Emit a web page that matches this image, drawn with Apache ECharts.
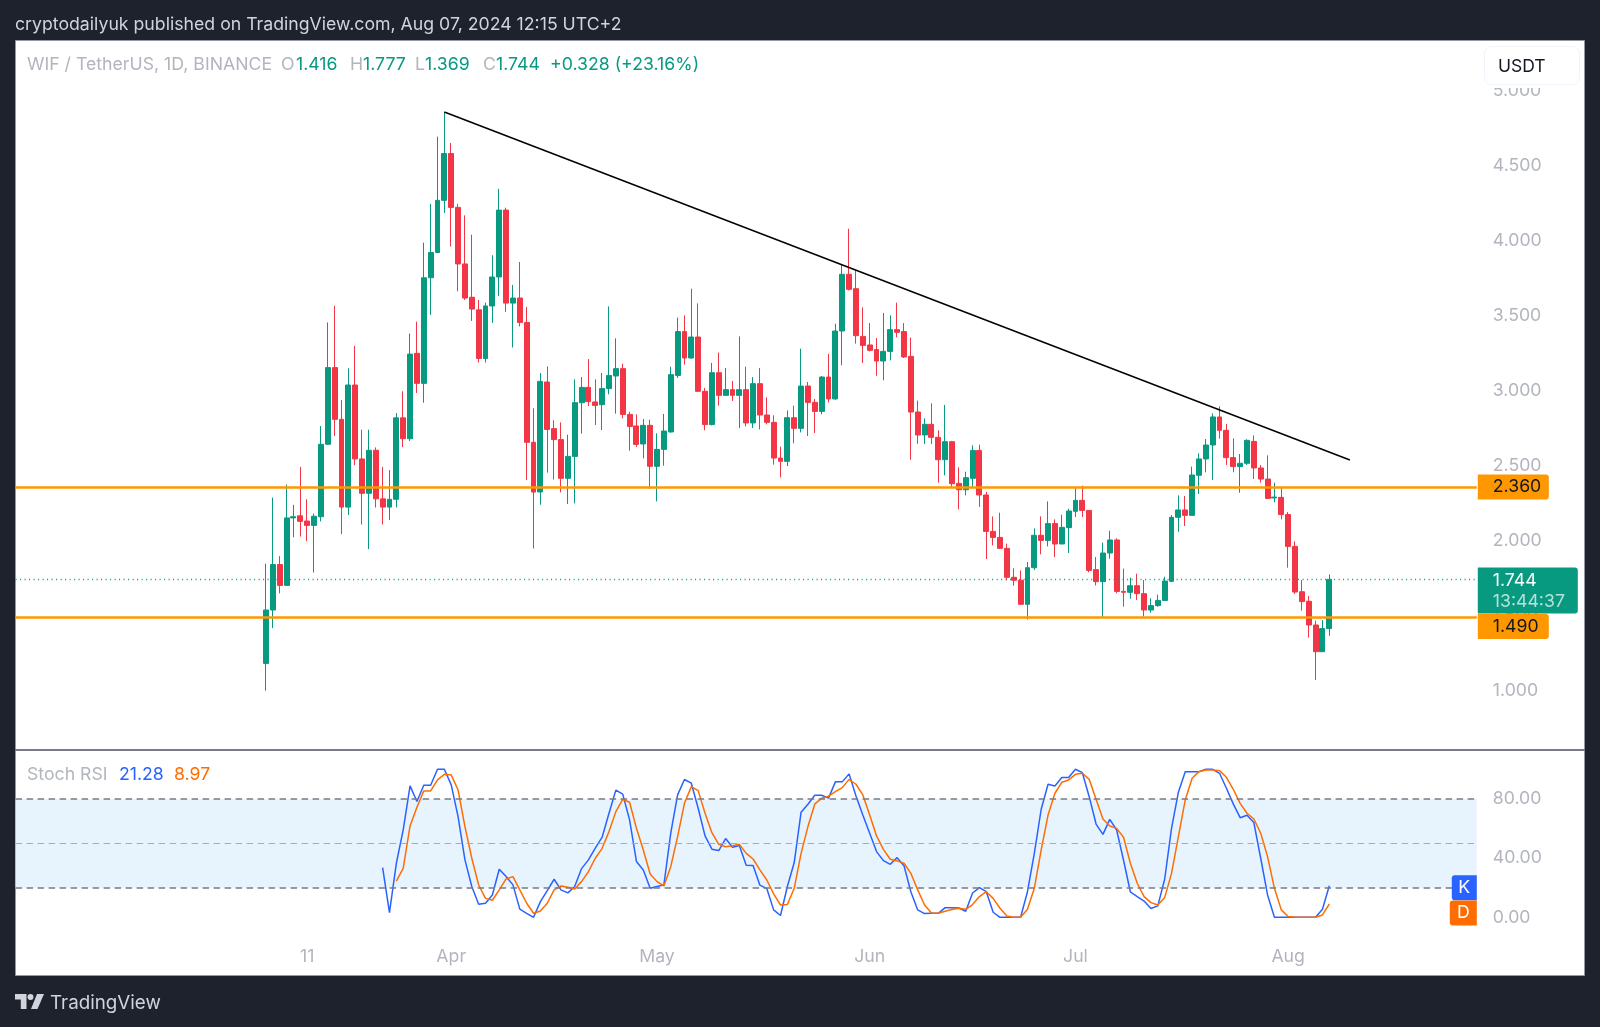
<!doctype html>
<html>
<head>
    <meta charset="utf-8">
    <title>WIF / TetherUS 1D</title>
    <script src="https://cdn.jsdelivr.net/npm/echarts@6/dist/echarts.min.js"></script>
    <style>
        html, body { margin: 0; padding: 0; background: #1e222d; }
        #main { width: 1600px; height: 1027px; }
    </style>
</head>
<body>
    <div id="main"></div>
</body>
<script type="text/javascript">
    // daily candles, 5 Mar 2024 to 7 Aug 2024
    var opens = [
        1.184,1.54,1.843,1.704,2.154,2.168,2.133,2.104,2.162,2.645,
        3.156,2.811,2.226,3.04,2.547,2.318,2.605,2.281,2.226,2.278,
        2.821,2.682,3.251,3.051,3.755,3.923,4.271,4.583,4.224,3.847,
        3.625,3.541,3.217,3.567,3.76,4.206,3.586,3.62,3.457,2.658,
        2.327,3.06,2.749,2.676,2.418,2.564,2.922,3.024,2.927,2.909,
        3.016,3.10,3.149,2.844,2.767,2.647,2.771,2.498,2.611,2.727,
        3.104,3.396,3.22,3.36,2.998,2.776,3.122,2.971,3.009,2.971,
        3.009,2.787,3.049,2.84,2.791,2.553,2.531,2.822,2.751,3.033,
        2.924,2.864,3.093,2.947,3.4,3.778,3.682,3.364,3.307,3.276,
        3.2,3.264,3.409,3.396,3.231,2.86,2.707,2.778,2.691,2.542,
        2.662,2.384,2.342,2.418,2.604,2.307,2.064,2.024,1.951,1.758,
        1.738,1.578,1.822,2.038,2.004,2.116,1.98,2.089,2.198,2.271,
        2.204,1.809,1.729,1.92,2.007,1.664,1.658,1.702,1.649,1.54,
        1.569,1.604,1.731,2.158,2.207,2.171,2.438,2.547,2.64,2.827,
        2.738,2.556,2.496,2.518,2.664,2.487,2.413,2.287,2.291,2.176,
        1.964,1.662,1.598,1.44,1.262,1.416
    ];
    var closes = [
        1.54,1.843,1.704,2.154,2.162,2.131,2.104,2.165,2.645,3.156,
        2.811,2.226,3.04,2.547,2.318,2.605,2.281,2.226,2.278,2.821,
        2.682,3.246,3.051,3.755,3.923,4.271,4.583,4.224,3.847,3.62,
        3.546,3.217,3.567,3.76,4.206,3.586,3.62,3.457,2.658,2.326,
        3.064,2.744,2.676,2.418,2.564,2.922,3.024,2.929,2.904,3.016,
        3.104,3.149,2.844,2.764,2.644,2.771,2.498,2.611,2.733,3.109,
        3.396,3.22,3.36,2.998,2.776,3.122,2.971,3.009,2.971,3.009,
        2.787,3.049,2.84,2.791,2.553,2.531,2.822,2.751,3.033,2.924,
        2.864,3.093,2.947,3.4,3.778,3.678,3.369,3.304,3.271,3.2,
        3.264,3.409,3.391,3.227,2.86,2.707,2.778,2.691,2.542,2.662,
        2.382,2.342,2.422,2.604,2.307,2.064,2.024,1.951,1.758,1.738,
        1.578,1.822,2.038,2.004,2.116,1.98,2.091,2.2,2.271,2.204,
        1.804,1.729,1.92,2.007,1.664,1.658,1.702,1.649,1.54,1.569,
        1.604,1.733,2.158,2.207,2.171,2.44,2.547,2.64,2.827,2.738,
        2.556,2.496,2.518,2.671,2.487,2.413,2.284,2.293,2.176,1.964,
        1.66,1.596,1.44,1.262,1.416,1.744
    ];
    var highs = [
        1.849,2.289,1.899,2.376,2.241,2.494,2.278,2.183,2.766,3.457,
        3.568,2.94,3.151,3.301,2.742,2.742,2.624,2.494,2.473,2.853,
        2.998,3.383,3.462,3.989,4.248,4.696,4.86,4.654,4.248,4.171,
        4.042,3.607,3.589,3.905,4.348,4.222,3.707,3.86,3.56,2.885,
        3.12,3.164,2.804,2.791,2.709,3.078,3.093,3.213,3.078,3.12,
        3.564,3.351,3.182,2.862,2.844,2.813,2.809,2.718,2.847,3.162,
        3.489,3.504,3.682,3.584,3.02,3.187,3.256,3.153,3.067,3.364,
        3.162,3.093,3.153,2.958,2.838,2.629,2.871,2.902,3.282,3.06,
        2.947,3.1,3.247,3.449,3.844,4.082,3.804,3.558,3.453,3.353,
        3.52,3.504,3.589,3.453,3.356,2.936,2.818,2.918,2.738,2.907,
        2.667,2.491,2.462,2.638,2.642,2.327,2.164,2.189,1.982,1.818,
        1.804,1.86,2.084,2.164,2.264,2.144,2.176,2.216,2.351,2.369,
        2.204,1.893,1.989,2.069,2.018,1.816,1.756,1.782,1.74,1.618,
        1.642,1.762,2.173,2.304,2.3,2.496,2.584,2.68,2.851,2.898,
        2.78,2.684,2.58,2.678,2.704,2.507,2.571,2.389,2.358,2.193,
        1.998,1.74,1.633,1.469,1.473,1.777
    ];
    var lows = [
        1.002,1.419,1.651,1.70,2.025,2.03,1.999,1.79,2.131,2.64,
        2.70,2.046,2.173,2.505,2.11,1.946,2.223,2.11,2.139,2.223,
        2.626,2.666,2.987,2.922,3.507,3.92,4.187,3.963,3.665,3.607,
        3.467,3.19,3.19,3.454,3.633,3.528,3.29,3.43,2.407,1.95,
        2.242,2.456,2.409,2.324,2.247,2.251,2.716,2.9,2.773,2.74,
        2.978,2.849,2.818,2.602,2.627,2.551,2.347,2.264,2.502,2.722,
        3.087,3.176,3.216,2.993,2.738,2.771,2.902,2.969,2.933,2.753,
        2.764,2.753,2.744,2.778,2.509,2.424,2.5,2.651,2.724,2.7,
        2.72,2.844,2.924,2.942,3.171,3.67,3.316,3.187,3.264,3.102,
        3.071,3.204,3.358,3.22,2.542,2.649,2.647,2.647,2.389,2.438,
        2.36,2.211,2.304,2.36,2.227,1.88,1.971,1.947,1.738,1.702,
        1.573,1.476,1.807,1.911,1.964,1.893,1.98,1.92,2.16,2.16,
        1.791,1.704,1.491,1.882,1.651,1.562,1.616,1.607,1.496,1.522,
        1.562,1.6,1.727,2.062,2.1,2.171,2.313,2.458,2.407,2.682,
        2.507,2.458,2.322,2.507,2.413,2.389,2.28,2.258,2.144,1.822,
        1.647,1.536,1.356,1.073,1.262,1.369
    ];
    // Stoch RSI, K starts on candle 17 and D on candle 19
    var stochK = [
        33.6,3.2,36.5,59,88.8,78.2,89.2,89.2,100,100,89.5,68,38.8,20.8,8.8,9.5,15.1,32.5,27.5,21.9,
        5.5,2.7,0,10.6,18,25.7,18.5,16.5,20.8,32.9,38.8,46.7,54.1,70.3,85.9,83.2,65.8,37.7,32,19.6,
        20.8,21.9,56.8,82.7,93.1,90.6,73.7,55,46,45.1,53.2,47.3,48.5,35.2,35,21.7,19.4,5,1.2,20.8,
        37,71,76.4,82.5,82.5,80.5,91.5,91.5,96.9,82,69.1,56.8,44.4,38.3,35.8,40.3,34.9,17.3,5,2.5,
        2.7,2.7,6.5,6.5,6.3,4.1,16.4,20,17.3,3.4,0,0,0,0,17.3,43.2,73,89.9,88.7,94.4,
        94.4,100,97.7,81.5,63,56,66.2,59,38.7,17.1,14,11,5.9,7.7,25.7,60.1,84.5,98.4,98.4,98.4,
        100,100,97.3,87.2,76.6,67.3,68.9,64,39.9,15.1,0,0,0,0,0,0,0,5.4,21.28
    ];
    var stochD = [
        24.5,33.1,61.7,74.3,85.4,85.4,92.8,96.6,96.2,86,61.3,39.9,21.8,12.8,11.5,18.5,25.9,27.5,18.5,9.5,
        2.7,4.3,9.5,18.5,21.2,20.3,19.1,24.1,30.9,39.9,46.6,57.9,71.4,79.7,77.7,60.1,45.5,29.3,24.1,21.2,
        34.2,54.5,77,88.3,85.6,70.3,57.2,49.3,47.7,48.4,49.3,43.2,39.4,32,25.2,15.8,8.3,8.6,19.6,43.2,
        61.3,76.6,80.4,81.8,84.9,87.6,93.2,89.9,82.7,69.1,55,45.9,39.2,38.1,36.5,29.7,18.5,8.3,2.9,2.7,
        4.1,5.2,6.1,5.4,8.6,14,17.3,12.8,6.1,0.9,0,0,5.4,19.6,45.5,69.1,83.8,91.2,92.8,96.6,
        97.3,93.2,79.7,66.4,61.7,60.1,54.1,36.5,23,14,9.9,8.3,13.3,29.7,54.5,79.3,93.9,98.4,99.5,99.5,
        99.1,94.6,86.5,77,70.3,66.4,56.8,41,19.6,5,0.5,0,0,0,0,1.6,8.97
    ];

    var priceTicks = [1, 1.5, 2, 2.5, 3, 3.5, 4, 4.5, 5];
    var stochTicks = [0, 40, 80];
    var timeLabels = { '2024-03-11': '11', '2024-04-01': 'Apr', '2024-05-01': 'May', '2024-06-01': 'Jun', '2024-07-01': 'Jul', '2024-08-01': 'Aug' };
    var levelHigh = 2.36, levelLow = 1.49, lastClose = 1.744;
    var trendFrom = [26, 4.86], trendTo = [158, 2.54];

    var UP = '#089981', DOWN = '#F23645', ORANGE = '#FF9800', BLUE = '#2962FF', TAG_ORANGE = '#FF6D00', GREY = '#B2B5BE';
    var FONT = 'Inter, "Noto Sans", sans-serif';

    // the time scale runs past the data on both sides
    var LEAD = 36, TAIL = 21;
    var categories = [];
    var startDay = Date.UTC(2024, 2, 5) - LEAD * 86400000;
    for (var i = 0; i < LEAD + opens.length + TAIL; i++) {
        categories.push(new Date(startDay + i * 86400000).toISOString().slice(0, 10));
    }
    function blanks(n) {
        var out = [];
        for (var j = 0; j < n; j++) out.push('-');
        return out;
    }
    var candles = blanks(LEAD).map(function () { return ['-', '-', '-', '-']; });
    for (var c = 0; c < opens.length; c++) {
        candles.push([opens[c], closes[c], lows[c], highs[c]]);
    }

    // text drawn by hand around the chart
    function txt(x, y, text, fill, size, z) {
        return { type: 'text', z: z || 50, silent: true, style: { x: x, y: y, text: text, fill: fill, font: (size || 17.7) + 'px ' + FONT, verticalAlign: 'middle' } };
    }
    var graphics = [
        // white chart panel
        { type: 'rect', z: -10, silent: true, shape: { x: 15.5, y: 40.5, width: 1569, height: 935 }, style: { fill: '#fff', stroke: '#9598A1', lineWidth: 1 } },
        { type: 'rect', z: 40, silent: true, shape: { x: 15, y: 749, width: 1570, height: 2 }, style: { fill: '#787B86' } },
        // USDT button covers the top of the price scale
        { type: 'rect', z: 45, silent: true, shape: { x: 1478, y: 41, width: 106, height: 47 }, style: { fill: '#fff' } },
        { type: 'rect', z: 46, silent: true, shape: { x: 1484.5, y: 46.5, width: 95, height: 38, r: 7 }, style: { fill: '#fff', stroke: '#F0F3FA', lineWidth: 1 } },
        txt(1498, 66.5, 'USDT', '#131722', 17.5),
        txt(15, 25, 'cryptodailyuk published on TradingView.com, Aug 07, 2024 12:15 UTC+2', '#D1D4DC', 17.7),
        txt(27, 64.5, 'WIF / TetherUS, 1D, BINANCE', GREY),
        txt(281, 64.5, 'O', GREY), txt(296, 64.5, '1.416', UP),
        txt(350, 64.5, 'H', GREY), txt(363, 64.5, '1.777', UP),
        txt(415, 64.5, 'L', GREY), txt(425, 64.5, '1.369', UP),
        txt(483, 64.5, 'C', GREY), txt(496, 64.5, '1.744', UP),
        txt(550, 64.5, '+0.328 (+23.16%)', UP),
        txt(27, 775, 'Stoch RSI', GREY),
        txt(119, 775, '21.28', BLUE),
        txt(174, 775, '8.97', TAG_ORANGE),
        // footer logo and wordmark
        { type: 'polygon', z: 50, silent: true, shape: { points: [[15, 994], [26.5, 994], [26.5, 1009], [20.8, 1009], [20.8, 999.5], [15, 999.5]] }, style: { fill: '#D1D4DC' } },
        { type: 'polygon', z: 50, silent: true, shape: { points: [[37, 994], [44, 994], [37.5, 1009], [31, 1009]] }, style: { fill: '#D1D4DC' } },
        { type: 'circle', z: 50, silent: true, shape: { cx: 30.5, cy: 997, r: 3 }, style: { fill: '#D1D4DC' } },
        txt(50, 1003, 'TradingView', '#D1D4DC', 18.8)
    ];

    function hLine(value, dash, color, width, labelOpt) {
        return {
            yAxis: value,
            lineStyle: { color: color, type: dash, width: width },
            label: labelOpt || { show: false }
        };
    }
    function levelTag(text, offsetY) {
        return {
            show: true, position: 'end', distance: 0, offset: [1, offsetY], formatter: text,
            backgroundColor: ORANGE, color: '#131722', fontFamily: FONT, fontSize: 17.7,
            width: 56, height: 25, lineHeight: 25, align: 'left', padding: [0, 0, 0, 15], borderRadius: [0, 3, 3, 0]
        };
    }
    function kdTag(text, color, w, offsetY) {
        // centred box, so half its width pulls it back inside the pane
        return {
            show: true, position: 'end', distance: 0, offset: [-w / 2, offsetY], formatter: text,
            backgroundColor: color, color: '#fff', fontFamily: FONT, fontSize: 17.7,
            width: w, height: 25, lineHeight: 25, align: 'center', borderRadius: [3, 0, 0, 3]
        };
    }

    var myChart = echarts.init(document.getElementById('main'), null, { renderer: 'canvas' });

    var option = {
        animation: false,
        backgroundColor: '#1E222D',
        graphic: { elements: graphics },
        grid: [
            { left: 15.6, top: 40, width: 1461.2, height: 710 },
            { left: 15.6, top: 751, width: 1461.2, height: 185 }
        ],
        xAxis: [
            { type: 'category', gridIndex: 0, data: categories, boundaryGap: true, show: false },
            { type: 'category', gridIndex: 1, data: categories, boundaryGap: true,
              axisLine: { show: false }, axisTick: { show: false }, splitLine: { show: false },
              axisLabel: {
                  color: GREY, fontFamily: FONT, fontSize: 17.7, margin: 12, hideOverlap: false,
                  interval: function (idx, value) { return !!timeLabels[value]; },
                  formatter: function (value) { return timeLabels[value] || ''; }
              } }
        ],
        yAxis: [
            { type: 'value', gridIndex: 0, position: 'right', min: 0.6067, max: 5.34, scale: true,
              axisLine: { show: false }, axisTick: { show: false }, splitLine: { show: false },
              axisLabel: { color: GREY, fontFamily: FONT, fontSize: 17.7, margin: 16, padding: [4, 0, 0, 0], customValues: priceTicks,
                           formatter: function (v) { return v.toFixed(3); } } },
            { type: 'value', gridIndex: 1, position: 'right', min: -12.64, max: 112.36, scale: true,
              axisLine: { show: false }, axisTick: { show: false }, splitLine: { show: false },
              axisLabel: { color: GREY, fontFamily: FONT, fontSize: 17.7, margin: 16, padding: [4, 0, 0, 0], customValues: stochTicks,
                           formatter: function (v) { return v.toFixed(2); } } }
        ],
        series: [
            {
                name: 'WIF', type: 'candlestick', xAxisIndex: 0, yAxisIndex: 0, barWidth: 5.4,
                itemStyle: { color: UP, color0: DOWN, borderColor: UP, borderColor0: DOWN, borderWidth: 1 },
                data: candles,
                markLine: {
                    silent: true, symbol: 'none', animation: false, precision: 3,
                    data: [
                        hLine(levelHigh, 'solid', ORANGE, 2.5, levelTag('2.360', 0)),
                        hLine(levelLow, 'solid', ORANGE, 2.5, levelTag('1.490', 9)),
                        hLine(lastClose, [1, 3.5], UP, 1.3, {
                            show: true, position: 'end', distance: 0, offset: [1, 11],
                            formatter: '{a|1.744}\n{b|13:44:37}', backgroundColor: UP, borderRadius: [0, 3, 3, 0],
                            width: 85, height: 43, align: 'left', padding: [3, 0, 0, 15],
                            rich: {
                                a: { color: '#fff', fontFamily: FONT, fontSize: 17.7, lineHeight: 21 },
                                b: { color: 'rgba(255,255,255,0.7)', fontFamily: FONT, fontSize: 17.7, lineHeight: 21 }
                            }
                        })
                    ]
                }
            },
            {
                name: 'Trend', type: 'line', xAxisIndex: 0, yAxisIndex: 0, symbol: 'none', silent: true,
                lineStyle: { color: '#000', width: 1.5 },
                data: [[LEAD + trendFrom[0], trendFrom[1]], [LEAD + trendTo[0], trendTo[1]]]
            },
            {
                name: 'K', type: 'line', xAxisIndex: 1, yAxisIndex: 1, symbol: 'none', silent: true,
                lineStyle: { color: BLUE, width: 1.5 },
                data: blanks(LEAD + 17).concat(stochK),
                markArea: { silent: true, itemStyle: { color: '#E7F3FD' }, data: [[{ yAxis: 80 }, { yAxis: 20 }]] },
                markLine: {
                    silent: true, symbol: 'none', animation: false,
                    data: [
                        hLine(80, [6.5, 4.5], '#787B86', 1.5),
                        hLine(50, [6.5, 4.5], '#A8ABB4', 1.2),
                        hLine(20, [6.5, 4.5], '#787B86', 1.5),
                        hLine(21.28, 'solid', 'rgba(0,0,0,0)', 0, kdTag('K', BLUE, 25, 2))
                    ]
                }
            },
            {
                name: 'D', type: 'line', xAxisIndex: 1, yAxisIndex: 1, symbol: 'none', silent: true,
                lineStyle: { color: TAG_ORANGE, width: 1.5 },
                data: blanks(LEAD + 19).concat(stochD),
                markLine: {
                    silent: true, symbol: 'none', animation: false,
                    data: [hLine(8.97, 'solid', 'rgba(0,0,0,0)', 0, kdTag('D', TAG_ORANGE, 27, 9))]
                }
            }
        ]
    };

    myChart.setOption(option);
</script>
</html>
